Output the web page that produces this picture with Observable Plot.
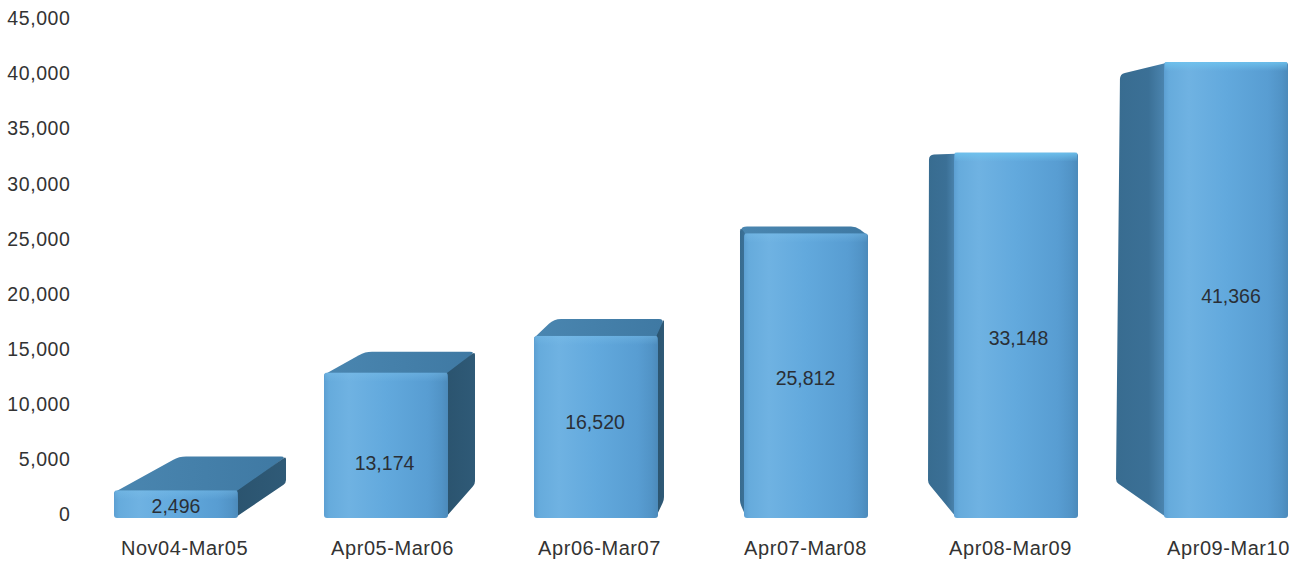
<!DOCTYPE html>
<html>
<head>
<meta charset="utf-8">
<script src="https://cdn.jsdelivr.net/npm/d3@7"></script>
<script src="https://cdn.jsdelivr.net/npm/@observablehq/plot@0.6"></script>
<style>
  html, body { margin: 0; padding: 0; background: #fff; }
  svg { display: block; }
  [aria-label="x-axis tick label"] text { letter-spacing: 0.55px; }
  [aria-label="y-axis tick label"] text { letter-spacing: 0.6px; }
</style>
</head>
<body>
<div id="chart"></div>
<script>
// Yearly totals per reporting period
const periods = ["Nov04-Mar05", "Apr05-Mar06", "Apr06-Mar07", "Apr07-Mar08", "Apr08-Mar09", "Apr09-Mar10"];
const totals = [2496, 13174, 16520, 25812, 33148, 41366];
const yTicks = [0, 5000, 10000, 15000, 20000, 25000, 30000, 35000, 40000, 45000];

const rows = periods.map((period, i) => ({period, total: totals[i]}));
const thousands = d3.format(",");

// Nudges for the period and value captions, in pixels
const periodNudge = [8, 6, 3, -1, -6, 2];
const valueNudgeX = [-0.5, -2, -1.5, -1, 2, 4.5];
const valueNudgeY = [2, 18, -5, 3, 3, 6];

// How far each box recedes: back-edge offsets from the front corners, in pixels
const recede = [
  {left: [64, -35], right: [49, -35], foot: [49, -35], side: "right"},
  {left: [40, -22], right: [28, -22], foot: [28, -34], side: "right"},
  {left: [19, -18], right: [7, -18], foot: [7, -18], side: "right"},
  {left: [-5, -8], right: [-11, -8], foot: [-5, -15], side: "left"},
  {left: [-26, 1], right: [0, 0], foot: [-27, -35], side: "left"},
  {left: [-45, 11], right: [0, 0], foot: [-49, -36], side: "left"}
];

// Closed outline whose corners are eased by the radius given as a third coordinate
function softPath(points) {
  const n = points.length;
  const toward = (a, b, r) => {
    const len = Math.hypot(b[0] - a[0], b[1] - a[1]) || 1;
    const t = Math.min(r / len, 0.5);
    return [a[0] + (b[0] - a[0]) * t, a[1] + (b[1] - a[1]) * t];
  };
  let path = "";
  points.forEach((p, i) => {
    const r = p[2] || 0;
    const prev = points[(i + n - 1) % n], next = points[(i + 1) % n];
    const a = toward(p, prev, r), b = toward(p, next, r);
    path += `${i ? "L" : "M"}${a[0]},${a[1]}Q${p[0]},${p[1]} ${b[0]},${b[1]}`;
  });
  return path + "Z";
}

const face = (g, points, fill) => g.append("path").attr("d", softPath(points)).attr("fill", fill);

// Top and side faces, placed from the same scales as the front of each bar
function boxFaces(_, {x, y}) {
  const g = d3.create("svg:g");
  const base = y(0);
  rows.forEach((d, i) => {
    const x0 = x(d.period) + 1, x1 = x0 + x.bandwidth() - 2, top = y(d.total) + 1;
    const r = recede[i];
    const tl = [x0 + r.left[0], top + r.left[1], 7];
    const tr = [x1 + r.right[0], top + r.right[1], 5];
    if (r.left[1] < 0) face(g, [[x0 - 1, top + 1, 0], tl, tr, [x1 + 1, top + 1, 0]], "url(#lid)");
    if (r.side === "right") {
      face(g, [[x1 - 1, top], [tr[0], tr[1], 3], [x1 + r.foot[0], base + r.foot[1], 3], [x1 - 1, base - 1]], "url(#sideRight)");
    } else {
      face(g, [[x0 + 1, top], [tl[0], tl[1], 5], [x0 + r.foot[0], base + r.foot[1], 3], [x0 + 1, base - 1]], "url(#sideLeft)");
    }
  });
  return g.node();
}

// Soft highlight along the upper rim of each front face, brighter on the tallest boxes
function rimLight(_, {x, y}) {
  const g = d3.create("svg:g");
  rows.forEach((d, i) => {
    g.append("rect")
      .attr("x", x(d.period) + 1)
      .attr("y", y(d.total))
      .attr("width", x.bandwidth() - 2)
      .attr("height", 9)
      .attr("fill", i < 4 ? "url(#rimSoft)" : "url(#rim)");
  });
  return g.node();
}

const gradients = () => {
  const defs = d3.create("svg:defs");
  const add = (id, stops, vertical) => {
    const lg = defs.append("linearGradient").attr("id", id)
      .attr("x1", 0).attr("y1", 0)
      .attr("x2", vertical ? 0 : 1).attr("y2", vertical ? 1 : 0);
    stops.forEach(([o, c, a]) => lg.append("stop")
      .attr("offset", o).attr("stop-color", c).attr("stop-opacity", a ?? 1));
  };
  add("front", [[0, "#5c9fd2"], [0.04, "#66abdc"], [0.2, "#6fb2e2"], [0.5, "#62a9dd"], [0.84, "#589dd2"], [0.95, "#5193c6"], [1, "#4c8aba"]]);
  add("lid", [[0, "#4a86b0"], [1, "#3f79a3"]]);
  add("sideRight", [[0, "#2b546f"], [1, "#2f5a77"]]);
  add("sideLeft", [[0, "#386c90"], [0.65, "#3b7096"], [1, "#4d87b2"]]);
  add("rim", [[0, "#6fc4ef", 0.85], [1, "#6fc4ef", 0]], true);
  add("rimSoft", [[0, "#7cc0ea", 0.4], [1, "#7cc0ea", 0]], true);
  return defs.node();
};

const chart = Plot.plot({
  width: 1301,
  height: 562,
  marginLeft: 114,
  marginRight: 13,
  marginTop: 22,
  marginBottom: 44,
  style: {fontFamily: "'Liberation Sans', Arial, sans-serif", color: "#333", background: "#fff"},
  x: {type: "band", domain: periods, paddingInner: 0.4095, paddingOuter: 0, round: false, label: null},
  y: {domain: [0, 45000], label: null},
  marks: [
    gradients,
    Plot.axisY({ticks: yTicks, tickSize: 0, tickPadding: 44, dy: -3.5, tickFormat: thousands, fontSize: 19.5, label: null, fill: "#333"}),
    ...periods.map((p, i) => Plot.axisX([p], {tickSize: 0, tickPadding: 30, dx: periodNudge[i], fontSize: 20, label: null, fill: "#333", lineAnchor: "middle"})),
    boxFaces,
    Plot.barY(rows, {x: "period", y: "total", fill: "url(#front)", rx: 3}),
    rimLight,
    ...rows.map((d, i) => Plot.text([d], {
      x: "period",
      y: r => r.total / 2,
      text: r => thousands(r.total),
      dx: valueNudgeX[i],
      dy: valueNudgeY[i],
      fontSize: 19.5,
      fill: "#2a2f36"
    }))
  ]
});

document.getElementById("chart").append(chart);
</script>
</body>
</html>
